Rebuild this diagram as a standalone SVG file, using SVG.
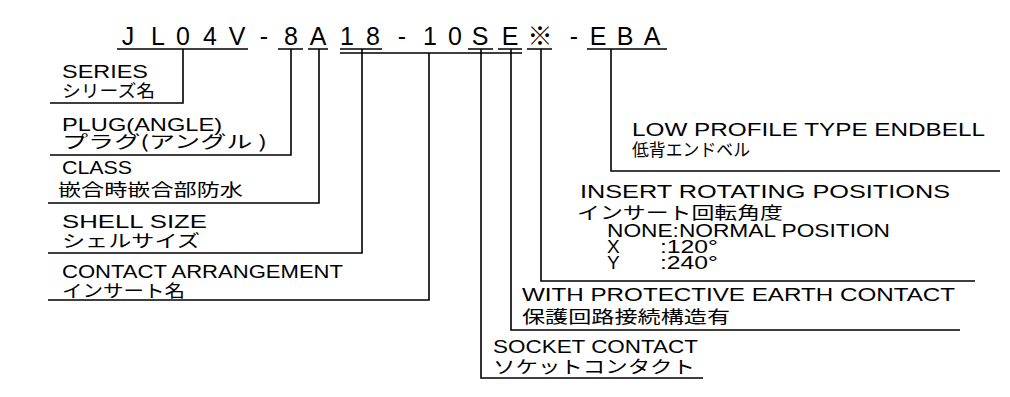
<svg xmlns="http://www.w3.org/2000/svg" width="1010" height="397" viewBox="0 0 1010 397">
<style>
.code{font-family:"Liberation Sans","Noto Sans CJK JP",sans-serif;font-size:25px;fill:#000;text-anchor:middle}
.en{font-family:"Liberation Sans","Noto Sans CJK JP",sans-serif;font-size:19px;fill:#000}
.jp{font-family:"Noto Sans CJK JP",sans-serif;font-size:17.5px;fill:#000}
.ln{fill:none;stroke:#000;stroke-width:1.6}
</style>
<rect width="1010" height="397" fill="#fff"/>
<g id="code">
<text class="code" x="128 158 183 210 237 264 291 318 347 373 402 430 455 480 510 540 574 598 625 652" y="45">JL04V-8A18-10SE※-EBA</text>
</g>
<g id="connectors" class="ln">
<path d="M117 49H248M278 49H303M308 49H328M340 49H382M468 49H493M498 49H522M527 49H552M587 49H667M340 53H522"/>
<path d="M183 49V103H50"/>
<path d="M291 49V155H50"/>
<path d="M319 49V203H48"/>
<path d="M362 49V253H48"/>
<path d="M429 53V300H48"/>
<path d="M481 49V378H703"/>
<path d="M511 49V330H960"/>
<path d="M541 49V281H975"/>
<path d="M611 49V171H1000"/>
</g>
<g id="series">
<text class="en" x="62" y="78" textLength="86" lengthAdjust="spacingAndGlyphs">SERIES</text>
<text class="jp" x="62" y="97" textLength="93" lengthAdjust="spacingAndGlyphs">シリーズ名</text>
</g>
<g id="plug">
<text class="en" x="62" y="131" textLength="160" lengthAdjust="spacingAndGlyphs">PLUG(ANGLE)</text>
<text class="jp" x="62" y="148" textLength="205" lengthAdjust="spacingAndGlyphs">プラグ(アングル )</text>
</g>
<g id="class">
<text class="en" x="62" y="174" textLength="70" lengthAdjust="spacingAndGlyphs">CLASS</text>
<text class="jp" x="58" y="196" textLength="185" lengthAdjust="spacingAndGlyphs">嵌合時嵌合部防水</text>
</g>
<g id="shell">
<text class="en" x="62" y="228" textLength="145" lengthAdjust="spacingAndGlyphs">SHELL SIZE</text>
<text class="jp" x="62" y="247" textLength="138" lengthAdjust="spacingAndGlyphs">シェルサイズ</text>
</g>
<g id="contact">
<text class="en" x="62" y="278" textLength="281" lengthAdjust="spacingAndGlyphs">CONTACT ARRANGEMENT</text>
<text class="jp" x="62" y="297" textLength="123" lengthAdjust="spacingAndGlyphs">インサート名</text>
</g>
<g id="socket">
<text class="en" x="493" y="353" textLength="205" lengthAdjust="spacingAndGlyphs">SOCKET CONTACT</text>
<text class="jp" x="493" y="373" textLength="202" lengthAdjust="spacingAndGlyphs">ソケットコンタクト</text>
</g>
<g id="earth">
<text class="en" x="522" y="301" textLength="433" lengthAdjust="spacingAndGlyphs">WITH PROTECTIVE EARTH CONTACT</text>
<text class="jp" x="522" y="323" textLength="208" lengthAdjust="spacingAndGlyphs">保護回路接続構造有</text>
</g>
<g id="rotation">
<text class="en" x="580" y="198" textLength="370" lengthAdjust="spacingAndGlyphs">INSERT ROTATING POSITIONS</text>
<text class="jp" x="577" y="219" textLength="206" lengthAdjust="spacingAndGlyphs">インサート回転角度</text>
<text class="en" x="607" y="237" textLength="283" lengthAdjust="spacingAndGlyphs">NONE:NORMAL POSITION</text>
<text class="en" x="607" y="253">X</text>
<text class="en" x="660" y="253" textLength="58" lengthAdjust="spacingAndGlyphs">:120°</text>
<text class="en" x="607" y="269">Y</text>
<text class="en" x="660" y="269" textLength="58" lengthAdjust="spacingAndGlyphs">:240°</text>
</g>
<g id="endbell">
<text class="en" x="632" y="136" textLength="353" lengthAdjust="spacingAndGlyphs">LOW PROFILE TYPE ENDBELL</text>
<text class="jp" x="632" y="156" textLength="118" lengthAdjust="spacingAndGlyphs">低背エンドベル</text>
</g>
</svg>
